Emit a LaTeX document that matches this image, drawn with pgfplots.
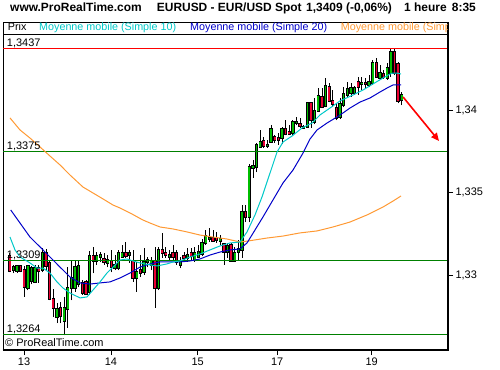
\documentclass[border=0pt]{standalone}
\usepackage{pgfplots}
\pgfplotsset{compat=1.18}
\usepackage{pgfplotstable}
\usepackage{fontspec}
\setmainfont{Liberation Sans}
\usetikzlibrary{arrows.meta}

\definecolor{cgreen}{RGB}{0,190,0}
\definecolor{cred}{RGB}{235,0,50}
\definecolor{lgreen}{RGB}{0,128,0}
\definecolor{maten}{RGB}{0,200,200}
\definecolor{matwenty}{RGB}{0,0,200}
\definecolor{malong}{RGB}{255,153,51}

\pgfplotsset{candle/.style={only marks, mark=none, mark size=0pt,
  mark options={draw=none, fill=none}, forget plot,
  error bars/.cd, y dir=plus, y explicit, error mark=none}}

% rising candles: index, open, high, low, close
\pgfplotstableread{
x o h l c
1 1.33030 1.33061 1.33012 1.33048
2 1.33024 1.33061 1.33012 1.33055
5 1.32921 1.33061 1.32909 1.33055
6 1.32964 1.33055 1.32945 1.33042
7 1.32958 1.33061 1.32952 1.33042
9 1.33030 1.33164 1.33018 1.33133
13 1.32745 1.32830 1.32709 1.32794
15 1.32721 1.32867 1.32636 1.32800
16 1.32794 1.33048 1.32679 1.32921
17 1.32921 1.33091 1.32848 1.32982
18 1.32921 1.33091 1.32897 1.33048
19 1.32945 1.33085 1.32927 1.33055
22 1.32897 1.33145 1.32879 1.33115
24 1.33085 1.33139 1.33061 1.33115
25 1.33109 1.33139 1.33079 1.33121
27 1.33073 1.33121 1.33048 1.33091
29 1.33042 1.33121 1.33030 1.33061
30 1.33042 1.33152 1.33030 1.33133
31 1.33109 1.33182 1.33103 1.33133
33 1.33121 1.33152 1.33073 1.33133
35 1.32982 1.33079 1.32897 1.33018
37 1.33018 1.33164 1.33000 1.33079
38 1.33079 1.33109 1.33048 1.33091
39 1.33061 1.33109 1.33030 1.33085
41 1.32921 1.33170 1.32909 1.33152
44 1.33109 1.33152 1.33091 1.33121
47 1.33061 1.33109 1.33042 1.33079
49 1.33103 1.33164 1.33079 1.33121
51 1.33091 1.33170 1.33079 1.33133
52 1.33109 1.33182 1.33103 1.33139
53 1.33127 1.33218 1.33115 1.33194
54 1.33194 1.33273 1.33182 1.33236
55 1.33218 1.33285 1.33200 1.33224
58 1.33206 1.33242 1.33182 1.33218
60 1.33139 1.33194 1.33103 1.33176
62 1.33085 1.33170 1.33079 1.33133
63 1.33139 1.33212 1.33085 1.33158
64 1.33152 1.33424 1.33103 1.33382
66 1.33352 1.33673 1.33321 1.33655
67 1.33648 1.33697 1.33588 1.33661
68 1.33655 1.33800 1.33624 1.33788
69 1.33776 1.33879 1.33770 1.33806
71 1.33782 1.33818 1.33770 1.33788
72 1.33806 1.33909 1.33800 1.33885
75 1.33830 1.33897 1.33794 1.33885
78 1.33861 1.33939 1.33848 1.33927
79 1.33921 1.33958 1.33909 1.33927
81 1.33891 1.33909 1.33885 1.33897
82 1.33897 1.34048 1.33891 1.34042
84 1.33927 1.34073 1.33915 1.33994
85 1.33994 1.34133 1.33988 1.34085
87 1.34024 1.34194 1.34018 1.34145
91 1.33958 1.34073 1.33945 1.34036
92 1.34030 1.34139 1.34018 1.34097
93 1.34091 1.34170 1.34073 1.34127
94 1.34103 1.34164 1.34079 1.34133
95 1.34103 1.34145 1.34091 1.34133
97 1.34158 1.34200 1.34121 1.34164
99 1.34152 1.34212 1.34139 1.34170
100 1.34164 1.34303 1.34152 1.34285
102 1.34194 1.34273 1.34182 1.34224
104 1.34194 1.34285 1.34182 1.34255
105 1.34224 1.34376 1.34200 1.34352
108 1.34061 1.34109 1.34030 1.34091
}\up

% falling candles: index, open, high, low, close
\pgfplotstableread{
x o h l c
0 1.33115 1.33133 1.33018 1.33024
3 1.33055 1.33061 1.33018 1.33024
4 1.33030 1.33055 1.32867 1.32927
8 1.33042 1.33061 1.32952 1.33024
10 1.33133 1.33158 1.33024 1.33055
11 1.33073 1.33091 1.32848 1.32855
12 1.32855 1.32915 1.32745 1.32800
14 1.32800 1.32836 1.32709 1.32752
20 1.32952 1.32970 1.32879 1.32891
21 1.32958 1.32970 1.32879 1.32885
23 1.33115 1.33170 1.33012 1.33085
26 1.33097 1.33133 1.33061 1.33079
28 1.33085 1.33152 1.33018 1.33048
32 1.33133 1.33200 1.33103 1.33115
34 1.33085 1.33152 1.32958 1.32982
36 1.33030 1.33121 1.32988 1.33012
40 1.33085 1.33170 1.32800 1.32921
42 1.33152 1.33255 1.33103 1.33133
43 1.33133 1.33170 1.33103 1.33121
45 1.33133 1.33182 1.33091 1.33109
46 1.33133 1.33152 1.33061 1.33079
48 1.33115 1.33139 1.33079 1.33103
50 1.33133 1.33164 1.33091 1.33115
56 1.33224 1.33273 1.33200 1.33206
57 1.33224 1.33261 1.33194 1.33212
59 1.33188 1.33194 1.33061 1.33139
61 1.33182 1.33194 1.33079 1.33085
65 1.33382 1.33424 1.33321 1.33352
70 1.33812 1.33836 1.33770 1.33782
73 1.33836 1.33848 1.33800 1.33818
74 1.33830 1.33861 1.33788 1.33818
76 1.33885 1.33939 1.33848 1.33855
77 1.33867 1.33909 1.33848 1.33855
80 1.33915 1.33952 1.33891 1.33903
83 1.34042 1.34048 1.33891 1.33939
86 1.34079 1.34133 1.34012 1.34018
88 1.34139 1.34164 1.34048 1.34055
89 1.34055 1.34121 1.34018 1.34036
90 1.34012 1.34036 1.33939 1.33952
96 1.34170 1.34200 1.34091 1.34139
98 1.34164 1.34194 1.34133 1.34158
101 1.34285 1.34315 1.34194 1.34200
103 1.34218 1.34242 1.34188 1.34200
106 1.34352 1.34376 1.34212 1.34224
107 1.34279 1.34291 1.34042 1.34055
}\down

\begin{document}
\begin{tikzpicture}
\useasboundingbox (0,0) rectangle (500bp,370bp);

\begin{axis}[
  at={(3bp,20bp)}, anchor=south west,
  width=445bp, height=316bp, scale only axis,
  xmin=-1.846, xmax=120.74,
  ymin=1.325454, ymax=1.344606,
  axis line style={black, line width=0.8bp},
  tick align=outside,
  major tick length=5bp,
  tick style={black, line width=0.8bp},
  xtick pos=bottom, ytick pos=right,
  yticklabel pos=right,
  xtick={3.94,27.9,51.8,73.7,99.7},
  xticklabels={13,14,15,17,19},
  ytick={1.33,1.335,1.34},
  yticklabels={{1,33},{1,335},{1,34}},
  tick label style={font=\fontsize{11}{13}\selectfont, text=black},
  yticklabel style={anchor=west, xshift=-1bp},
  xticklabel style={yshift=1bp},
  minor tick num=0,
]

% wicks
\addplot[candle, error bar style={black, line width=0.75bp}]
  table[x=x, y=l, y error plus expr=\thisrow{h}-\thisrow{l}] {\up};
\addplot[candle, error bar style={black, line width=0.75bp}]
  table[x=x, y=l, y error plus expr=\thisrow{h}-\thisrow{l}] {\down};

% body outlines
\addplot[candle, error bar style={black, line width=3.3bp}]
  table[x=x, y expr=\thisrow{o}-0.00005, y error plus expr=\thisrow{c}-\thisrow{o}+0.0001] {\up};
\addplot[candle, error bar style={black, line width=3.3bp}]
  table[x=x, y expr=\thisrow{c}-0.00005, y error plus expr=\thisrow{o}-\thisrow{c}+0.0001] {\down};

% body fills
\addplot[candle, error bar style={cgreen, line width=1.6bp}]
  table[x=x, y=o, y error plus expr=\thisrow{c}-\thisrow{o}] {\up};
\addplot[candle, error bar style={cred, line width=1.6bp}]
  table[x=x, y=c, y error plus expr=\thisrow{o}-\thisrow{c}] {\down};

% horizontal levels
\addplot[red, line width=1bp, forget plot] coordinates {(-2,1.3437) (121,1.3437)};
\addplot[lgreen, line width=1bp, forget plot] coordinates {(-2,1.3375) (121,1.3375)};
\addplot[lgreen, line width=1bp, forget plot] coordinates {(-2,1.3309) (121,1.3309)};
\addplot[lgreen, line width=1bp, forget plot] coordinates {(-2,1.3264) (121,1.3264)};

% long moving average
\addplot[malong, line width=1bp, mark=none] coordinates {
(0.08,1.33952) (2.84,1.33879) (5.59,1.33830) (8.35,1.33776) (11.1,1.33721)
(13.86,1.33667) (16.61,1.33606) (20.19,1.33533) (22.95,1.33497) (25.7,1.33461)
(28.46,1.33424) (30.39,1.33406) (33.14,1.33376) (36.72,1.33333) (38.65,1.33315)
(41.4,1.33291) (44.99,1.33279) (48.84,1.33261) (52.42,1.33242) (56.0,1.33230)
(59.86,1.33218) (63.44,1.33200) (65.65,1.33206) (70.88,1.33224) (75.29,1.33236)
(79.97,1.33255) (84.66,1.33267) (89.06,1.33291) (93.75,1.33321) (98.43,1.33364)
(102.84,1.33412) (105.59,1.33448) (107.8,1.33479)};

% SMA 20
\addplot[matwenty, line width=1bp, mark=none] coordinates {
(0.28,1.33394) (2.84,1.33315) (5.59,1.33230) (8.35,1.33170) (11.1,1.33109)
(13.86,1.33048) (16.61,1.32988) (19.37,1.32952) (22.12,1.32945) (24.88,1.32952)
(27.63,1.32958) (30.39,1.32982) (33.14,1.33012) (35.9,1.33048) (38.65,1.33067)
(41.4,1.33079) (44.16,1.33079) (46.91,1.33079) (49.67,1.33085) (52.42,1.33097)
(55.18,1.33121) (57.93,1.33139) (60.69,1.33152) (63.44,1.33158) (65.37,1.33194)
(67.58,1.33273) (69.78,1.33352) (72.53,1.33455) (75.29,1.33558) (78.04,1.33636)
(80.8,1.33739) (82.73,1.33824) (84.66,1.33879) (87.41,1.33921) (90.17,1.33958)
(91.82,1.33982) (93.75,1.34012) (96.5,1.34048) (99.26,1.34073) (102.01,1.34109)
(103.94,1.34133) (105.6,1.34152) (107.8,1.34152)};

% SMA 10
\addplot[maten, line width=1bp, mark=none] coordinates {
(0.08,1.33230) (1.46,1.33152) (2.84,1.33109) (5.59,1.33073) (7.52,1.33042)
(9.17,1.33042) (11.1,1.33012) (13.03,1.32958) (14.68,1.32921) (16.61,1.32891)
(19.37,1.32861) (21.29,1.32867) (22.95,1.32909) (24.88,1.32958) (26.8,1.33012)
(28.46,1.33048) (30.39,1.33091) (32.31,1.33097) (33.97,1.33085) (35.9,1.33073)
(38.65,1.33061) (40.58,1.33055) (43.33,1.33067) (44.99,1.33079) (46.91,1.33085)
(49.67,1.33109) (52.42,1.33127) (55.18,1.33152) (57.93,1.33176) (60.69,1.33194)
(63.44,1.33200) (65.37,1.33261) (67.58,1.33364) (69.5,1.33473) (71.71,1.33618)
(73.64,1.33745) (75.29,1.33806) (77.77,1.33842) (80.52,1.33891) (83.28,1.33921)
(85.48,1.33970) (88.24,1.34012) (90.99,1.34055) (94.57,1.34091) (97.33,1.34121)
(100.08,1.34158) (102.84,1.34194) (104.77,1.34218) (105.59,1.34224) (106.69,1.34224)
(107.8,1.34218)};

% level labels
\node[anchor=base west, inner sep=0, font=\fontsize{11}{13}\selectfont] at (axis cs:-0.8,1.34382) {1,3437};
\node[anchor=base west, inner sep=0, font=\fontsize{11}{13}\selectfont] at (axis cs:-0.8,1.33762) {1,3375};
\node[anchor=base west, inner sep=0, font=\fontsize{11}{13}\selectfont] at (axis cs:-0.8,1.33102) {1,3309};
\node[anchor=base west, inner sep=0, font=\fontsize{11}{13}\selectfont] at (axis cs:-0.8,1.32652) {1,3264};
\node[anchor=base west, inner sep=0, font=\fontsize{11}{13}\selectfont] at (axis cs:-1.3,1.32568) {\textcopyright\ ProRealTime.com};

% trend arrow
\draw[red, line width=1.6bp, -{Triangle[length=8bp,width=7bp]}] (axis cs:108.35,1.34079) -- (axis cs:118.27,1.33812);
\end{axis}

% thick right and bottom frame
\draw[black, line width=2bp] (2.6bp,20bp) -- (449bp,20bp);
\draw[black, line width=2bp] (448bp,19bp) -- (448bp,348.4bp);

% legend strip
\draw[black, line width=0.8bp] (3bp,348bp) -- (448bp,348bp);
\draw[black, line width=0.8bp] (3bp,336bp) -- (3bp,348bp);
\begin{scope}
\clip (3bp,336bp) rectangle (447bp,348bp);
\node[anchor=base west, inner sep=0, font=\fontsize{10.8}{12}\selectfont] at (7.7bp,339.5bp) {Prix};
\node[anchor=base west, inner sep=0, font=\fontsize{10.8}{12}\selectfont, text=maten] at (39bp,339.5bp) {Moyenne mobile (Simple 10)};
\node[anchor=base west, inner sep=0, font=\fontsize{10.8}{12}\selectfont, text=matwenty] at (190bp,339.5bp) {Moyenne mobile (Simple 20)};
\node[anchor=base west, inner sep=0, font=\fontsize{10.8}{12}\selectfont, text=malong] at (340.7bp,339.5bp) {Moyenne mobile (Simple 100)};
\end{scope}

% title line
\node[anchor=base west, inner sep=0, font=\bfseries\fontsize{12}{14}\selectfont] at (10bp,358bp) {www.ProRealTime.com};
\node[anchor=base west, inner sep=0, font=\bfseries\fontsize{12}{14}\selectfont] at (156.7bp,358bp) {EURUSD - EUR/USD Spot};
\node[anchor=base west, inner sep=0, font=\bfseries\fontsize{12}{14}\selectfont] at (306bp,358bp) {1,3409 (-0,06\%)};
\node[anchor=base west, inner sep=0, font=\bfseries\fontsize{12}{14}\selectfont] at (404bp,358bp) {1 heure};
\node[anchor=base west, inner sep=0, font=\bfseries\fontsize{12}{14}\selectfont] at (451.7bp,358bp) {8:35};
\end{tikzpicture}
\end{document}
